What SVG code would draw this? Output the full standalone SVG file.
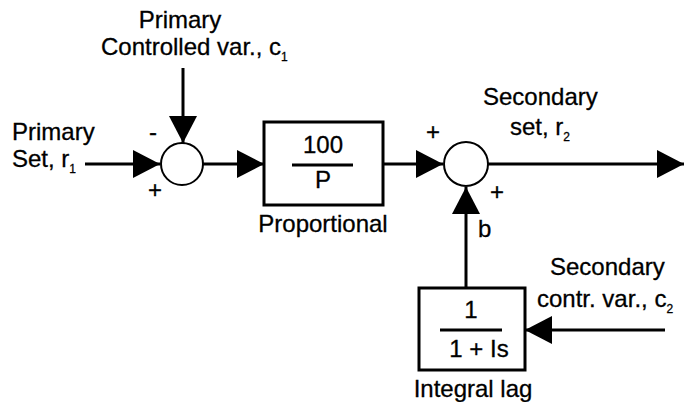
<svg xmlns="http://www.w3.org/2000/svg" width="684" height="402" viewBox="0 0 684 402">
<defs>
<style>
text{font-family:"Liberation Sans",Arial,sans-serif;font-size:24px;fill:#000;stroke:#000;stroke-width:0.3}
.sub{font-size:12px}
.ln{stroke:#000;stroke-width:3;fill:none}
.box{stroke:#000;stroke-width:3;fill:#fff}
.sum{stroke:#000;stroke-width:2;fill:#fff}
</style>
<marker id="ah" markerUnits="userSpaceOnUse" markerWidth="28" markerHeight="30" refX="27" refY="14" orient="auto">
<path d="M0,0 L27,14 L0,28 Z" fill="#000"/>
</marker>
</defs>
<rect width="684" height="402" fill="#fff"/>
<g id="connectors">
<line class="ln" x1="85" y1="164" x2="160" y2="164" marker-end="url(#ah)"/>
<line class="ln" x1="183" y1="68" x2="183" y2="143" marker-end="url(#ah)"/>
<line class="ln" x1="203" y1="164" x2="264" y2="164" marker-end="url(#ah)"/>
<line class="ln" x1="383" y1="164" x2="443" y2="164" marker-end="url(#ah)"/>
<line class="ln" x1="488" y1="164" x2="684" y2="164" marker-end="url(#ah)"/>
<line class="ln" x1="466" y1="288" x2="466" y2="187" marker-end="url(#ah)"/>
<line class="ln" x1="665" y1="330" x2="525" y2="330" marker-end="url(#ah)"/>
</g>
<g id="labels">
<text x="180" y="28" text-anchor="middle">Primary</text>
<text x="101" y="55">Controlled var., c<tspan class="sub" dy="6">1</tspan></text>
<text x="12" y="140">Primary</text>
<text x="12" y="167">Set, r<tspan class="sub" dy="6">1</tspan></text>
<text x="153" y="140" text-anchor="middle" font-size="18">-</text>
<text x="155" y="198" text-anchor="middle" font-size="18">+</text>
<text x="433" y="140" text-anchor="middle" font-size="18">+</text>
<text x="497" y="200" text-anchor="middle" font-size="18">+</text>
<text x="483" y="105">Secondary</text>
<text x="510" y="135">set, r<tspan class="sub" dy="6">2</tspan></text>
<text x="478" y="237">b</text>
<text x="550" y="275">Secondary</text>
<text x="537" y="307">contr. var., c<tspan class="sub" dy="6">2</tspan></text>
</g>
<g id="sum1"><circle class="sum" cx="182" cy="164" r="21"/></g>
<g id="sum2"><circle class="sum" cx="466" cy="164" r="22"/></g>
<g id="proportional">
<rect class="box" x="264" y="122" width="119" height="83"/>
<text x="323" y="153" text-anchor="middle">100</text>
<line class="ln" x1="292" y1="165" x2="353" y2="165"/>
<text x="323" y="188" text-anchor="middle">P</text>
<text x="323" y="232" text-anchor="middle">Proportional</text>
</g>
<g id="integral">
<rect class="box" x="419" y="288" width="106" height="82"/>
<text x="471" y="318" text-anchor="middle">1</text>
<line class="ln" x1="440" y1="330" x2="502" y2="330"/>
<text x="479" y="357" text-anchor="middle">1 + Is</text>
<text x="473" y="397" text-anchor="middle">Integral lag</text>
</g>
</svg>
